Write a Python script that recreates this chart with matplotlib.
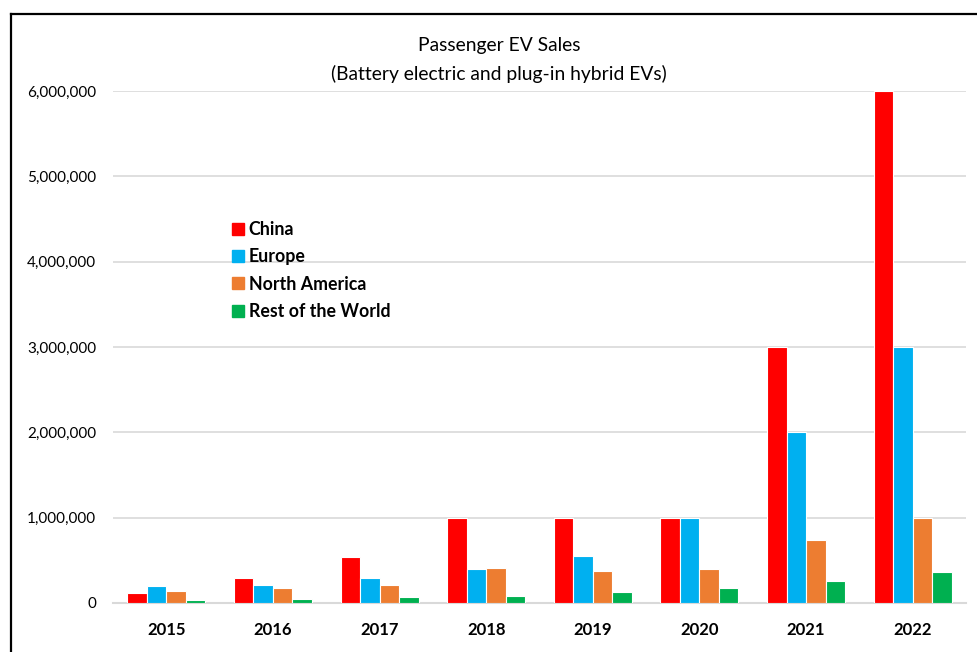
import matplotlib
matplotlib.use("Agg")
import matplotlib.pyplot as plt
import numpy as np
from matplotlib.lines import Line2D

years = ["2015", "2016", "2017", "2018", "2019", "2020", "2021", "2022"]
series_names = ["China", "Europe", "North America", "Rest of the World"]
china = [120000, 290000, 540000, 1000000, 1000000, 1000000, 3000000, 6000000]
europe = [195000, 215000, 290000, 395000, 550000, 1000000, 2000000, 3000000]
north_america = [135000, 180000, 215000, 405000, 375000, 395000, 740000, 1000000]
rest_world = [40000, 52000, 75000, 87000, 134000, 170000, 255000, 360000]
colors = ["#FF0000", "#00B0F0", "#ED7D31", "#00B050"]
yticks = [0, 1000000, 2000000, 3000000, 4000000, 5000000, 6000000]

W, H = 977, 652
fig = plt.figure(figsize=(W / 100, H / 100), dpi=100)
ax = fig.add_axes([113 / W, 1 - 603 / H, (966 - 113) / W, (603 - 91) / H])

data = [china, europe, north_america, rest_world]
x = np.arange(len(years))
bw = 0.183
for i, (vals, c, name) in enumerate(zip(data, colors, series_names)):
    ax.bar(x + (i - 1.5) * bw, vals, width=bw, color=c, edgecolor="white",
           linewidth=0.8, label=name, zorder=3)

ax.set_xlim(-0.5, len(years) - 0.5)
ax.set_ylim(0, 6000000)
ax.set_yticks(yticks)
ax.set_yticklabels([f"{v:,}" for v in yticks], fontfamily="Lato", fontsize=11)
ax.set_xticks(x)
ax.set_xticklabels(years, fontfamily="Lato", fontweight="bold", fontsize=12)
ax.tick_params(axis="y", length=0, pad=12)
ax.tick_params(axis="x", length=0, pad=14)
ax.grid(axis="y", color="#D9D9D9", linewidth=1.2, zorder=0)
ax.set_axisbelow(True)
for s in ["top", "right", "left"]:
    ax.spines[s].set_visible(False)
ax.spines["bottom"].set_color("#D9D9D9")
ax.spines["bottom"].set_linewidth(1.5)

fig.text(499 / W, 1 - 46 / H, "Passenger EV Sales", ha="center", va="center",
         fontfamily="Lato", fontsize=13.9)
fig.text(499 / W, 1 - 74 / H, "(Battery electric and plug-in hybrid EVs)",
         ha="center", va="center", fontfamily="Lato", fontsize=13.9)

handles = [Line2D([], [], marker="s", linestyle="none", markersize=9,
                  markerfacecolor=c, markeredgecolor=c) for c in colors]
leg = fig.legend(handles, series_names, loc="upper left",
                 bbox_to_anchor=(231 / W, 1 - 221 / H), frameon=False,
                 handlelength=0.8, handletextpad=0.2, labelspacing=0.58,
                 borderpad=0, borderaxespad=0,
                 prop={"family": "Lato", "weight": "bold", "size": 12.8})

fig.add_artist(Line2D([11 / W, 1.01], [1 - 14 / H, 1 - 14 / H], color="black",
                      linewidth=1.6, transform=fig.transFigure))
fig.add_artist(Line2D([11 / W, 11 / W], [1 - 14 / H, -0.01], color="black",
                      linewidth=1.6, transform=fig.transFigure))

fig.savefig("out.png", dpi=100)
